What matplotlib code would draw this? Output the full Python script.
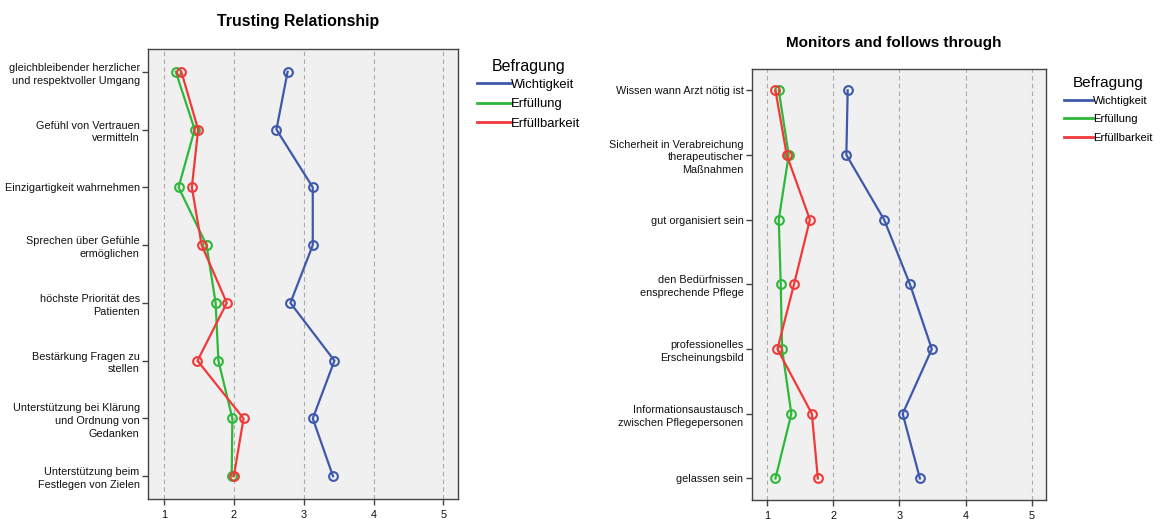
import matplotlib
matplotlib.use("Agg")
import matplotlib.pyplot as plt
from matplotlib.lines import Line2D

plt.rcParams['font.family'] = ['Liberation Sans', 'DejaVu Sans']

series_names = ["Wichtigkeit", "Erfüllung", "Erfüllbarkeit"]
series_colors = ["#3E58AC", "#2EB83A", "#F03A3A"]

trust_items = [
    "gleichbleibender herzlicher\nund respektvoller Umgang",
    "Gefühl von Vertrauen\nvermitteln",
    "Einzigartigkeit wahrnehmen",
    "Sprechen über Gefühle\nermöglichen",
    "höchste Priorität des\nPatienten",
    "Bestärkung Fragen zu\nstellen",
    "Unterstützung bei Klärung\nund Ordnung von\nGedanken",
    "Unterstützung beim\nFestlegen von Zielen",
]
trust_wichtigkeit = [2.77, 2.61, 3.13, 3.13, 2.81, 3.44, 3.13, 3.42]
trust_erfuellung = [1.17, 1.44, 1.21, 1.61, 1.74, 1.78, 1.98, 1.97]
trust_erfuellbarkeit = [1.25, 1.49, 1.40, 1.54, 1.90, 1.48, 2.14, 2.00]

monitor_items = [
    "Wissen wann Arzt nötig ist",
    "Sicherheit in Verabreichung\ntherapeutischer\nMaßnahmen",
    "gut organisiert sein",
    "den Bedürfnissen\nensprechende Pflege",
    "professionelles\nErscheinungsbild",
    "Informationsaustausch\nzwischen Pflegepersonen",
    "gelassen sein",
]
monitor_wichtigkeit = [2.22, 2.20, 2.77, 3.16, 3.49, 3.05, 3.31]
monitor_erfuellung = [1.18, 1.33, 1.18, 1.21, 1.23, 1.37, 1.13]
monitor_erfuellbarkeit = [1.13, 1.30, 1.65, 1.41, 1.16, 1.68, 1.77]

x_ticks = [1, 2, 3, 4, 5]

fig = plt.figure(figsize=(11.66, 5.19), dpi=100)


def draw_panel(rect, title, items, values, title_y, title_size, ymargin,
               legend_pos, leg_title_size, leg_text_size, leg_spacing):
    ax = fig.add_axes(rect)
    ax.set_facecolor("#F0F0F0")
    pos = list(range(len(items)))
    for vals, color in zip(values, series_colors):
        ax.plot(vals, pos, color=color, lw=1.6, marker="o", ms=6.3,
                mfc="none", mec=color, mew=1.5, zorder=3)
    ax.set_xlim(0.772, 5.213)
    ax.set_ylim(len(items) - 1 + ymargin, -ymargin)
    ax.set_xticks(x_ticks)
    ax.set_xticklabels([str(t) for t in x_ticks])
    ax.set_yticks(pos)
    ax.set_yticklabels(items, ha="right", linespacing=1.35)
    for t in x_ticks:
        ax.axvline(t, color="#AAAAAA", lw=0.8, ls=(0, (4, 3)), zorder=1)
    for sp in ax.spines.values():
        sp.set_color("#444444")
        sp.set_linewidth(1.0)
    ax.tick_params(axis="both", direction="out", length=4, width=1.0,
                   color="#444444", labelsize=7.8, labelcolor="#111111", pad=2)
    ax.tick_params(axis="x", pad=4)
    fig.text(rect[0] + rect[2] / 2 - 0.004, title_y, title, ha="center",
             va="center", fontsize=title_size, fontweight="bold")
    handles = [Line2D([], [], color=c, lw=2.0) for c in series_colors]
    leg = fig.legend(handles, series_names, title="Befragung",
                     loc="upper left", bbox_to_anchor=legend_pos,
                     frameon=False, handlelength=2.6, handletextpad=0.0,
                     labelspacing=leg_spacing, fontsize=leg_text_size,
                     title_fontsize=leg_title_size, borderaxespad=0,
                     borderpad=0)
    # tighten the gap between the legend title and its entries
    leg._legend_box.sep = max(leg._legend_box.sep - 1.5, 0)
    return ax


draw_panel([0.1269, 0.0391, 0.2662, 0.8659], "Trusting Relationship",
           trust_items,
           [trust_wichtigkeit, trust_erfuellung, trust_erfuellbarkeit],
           0.958, 11.4, 0.388, (0.409, 0.887), 11.5, 9.4, 0.55)

draw_panel([0.6447, 0.0366, 0.2524, 0.8310], "Monitors and follows through",
           monitor_items,
           [monitor_wichtigkeit, monitor_erfuellung, monitor_erfuellbarkeit],
           0.917, 11, 0.333, (0.9125, 0.853), 11, 8.1, 0.72)

fig.savefig("out.png", dpi=100)
